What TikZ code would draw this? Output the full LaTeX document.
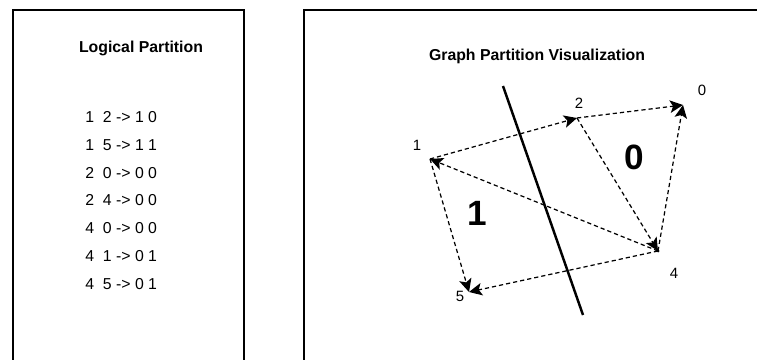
\documentclass[tikz,border=0pt]{standalone}
\usepackage{fontspec}
\setmainfont{Liberation Sans}
\usetikzlibrary{arrows.meta}

\tikzset{
  panel/.style={line width=1.6pt},
  title/.style={font=\fontsize{9}{11}\selectfont\bfseries, inner sep=0pt},
  rowtext/.style={font=\fontsize{9}{11}\selectfont, anchor=west, inner sep=0pt},
  vlabel/.style={font=\fontsize{8.5}{10}\selectfont, inner sep=0pt},
  partlabel/.style={font=\fontsize{20}{22}\selectfont\bfseries, inner sep=0pt},
  link/.style={line width=0.7pt, dash pattern=on 2.4pt off 1.7pt,
    -{Stealth[length=2.6mm,width=2.5mm,inset=0.6mm,line width=0.8pt]}},
  cut/.style={line width=1.4pt}
}

\begin{document}
\begin{tikzpicture}[x=0.2mm,y=-0.2mm]
  \useasboundingbox (0,0) rectangle (757,360);
  \clip (0,0) rectangle (757,360);

  % the two panels
  \draw[panel] (13,10) rectangle (244,380);
  \draw[panel] (304,10) rectangle (790,380);

  % left panel: edge list
  \node[title] (ltitle) at (141,48) {Logical Partition};
  \foreach \row [count=\i] in {1\ \ 2 -> 1 0, 1\ \ 5 -> 1 1, 2\ \ 0 -> 0 0,
      2\ \ 4 -> 0 0, 4\ \ 0 -> 0 0, 4\ \ 1 -> 0 1, 4\ \ 5 -> 0 1}
    \node[rowtext] (row\i) at (85, 117+27.8*\i-27.8) {\row};

  % right panel: graph
  \node[title] (rtitle) at (537,56) {Graph Partition Visualization};

  \coordinate (v0) at (683,105);
  \coordinate (v1) at (430,159);
  \coordinate (v2) at (577,118);
  \coordinate (v4) at (658,251);
  \coordinate (v5) at (469,292);

  \node[vlabel] (l0) at (702,90) {0};
  \node[vlabel] (l1) at (417,145) {1};
  \node[vlabel] (l2) at (579,103) {2};
  \node[vlabel] (l4) at (674,273) {4};
  \node[vlabel] (l5) at (460,296) {5};

  \draw[link] (v1) -- (v2);
  \draw[link] (v1) -- (v5);
  \draw[link] (v2) -- (v0);
  \draw[link] (v2) -- (v4);
  \draw[link] (v4) -- (v0);
  \draw[link] (v4) -- (v1);
  \draw[link] (v4) -- (v5);
  \fill (v4) circle (1.5);

  % partition cut
  \coordinate (ctop) at (503,86);
  \coordinate (cbot) at (583,315);
  \draw[cut] (ctop) -- (cbot);

  \node[partlabel] (p1) at (477,213) {1};
  \node[partlabel] (p0) at (634,157) {0};
\end{tikzpicture}
\end{document}
